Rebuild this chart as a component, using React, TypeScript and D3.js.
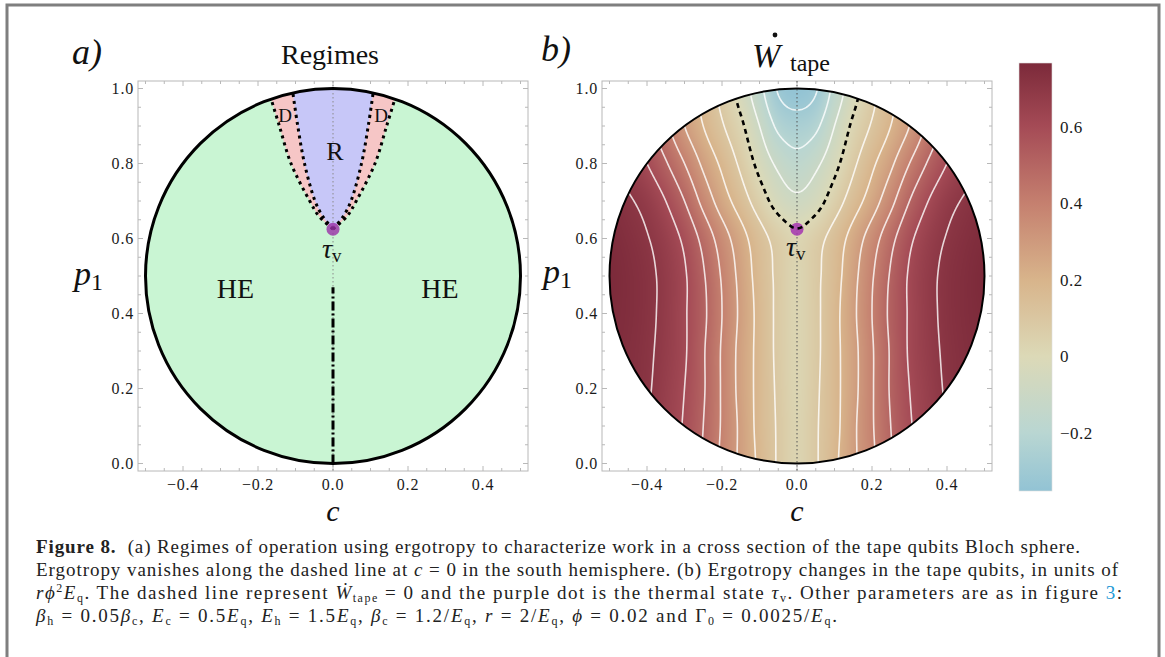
import React, { useMemo } from 'react';
import * as d3 from 'd3';

// ---------- values ----------
const xTicks = [-0.4, -0.2, 0, 0.2, 0.4];
const yTicks = [0, 0.2, 0.4, 0.6, 0.8, 1.0];

// thermal state tau_v
const tauC = 0;
const tauP1 = 0.625;

// panel a: boundary of the R region (right half, mirrored to the left)
const refP1 = [0.625, 0.66, 0.7, 0.8, 0.9, 0.988];
const refC = [0, 0.028, 0.048, 0.076, 0.094, 0.107];
// panel a: outer boundary of the D region
const dudP1 = [0.625, 0.66, 0.7, 0.8, 0.9, 0.972];
const dudC = [0, 0.038, 0.062, 0.112, 0.143, 0.165];
// ergotropy vanishes on c = 0 between these p1
const zeroErgoP1 = [0, 0.47];

// panel b: W_tape estimated on a grid, c >= 0 half (figure is symmetric in c)
const gridC = [0, 0.05, 0.1, 0.15, 0.2, 0.25, 0.3, 0.35, 0.4, 0.45, 0.5];
const gridP1 = [0, 0.1, 0.2, 0.3, 0.4, 0.5, 0.6, 0.7, 0.8, 0.9, 1.0];
const w00 = [0.03, 0.09, 0.18, 0.28, 0.38, 0.49, 0.58, 0.64, 0.69, 0.71, 0.72];
const w01 = [0.03, 0.09, 0.17, 0.28, 0.39, 0.5, 0.59, 0.65, 0.7, 0.72, 0.73];
const w02 = [0.025, 0.085, 0.17, 0.27, 0.39, 0.51, 0.6, 0.66, 0.71, 0.735, 0.745];
const w03 = [0.025, 0.08, 0.17, 0.27, 0.39, 0.51, 0.61, 0.67, 0.715, 0.74, 0.755];
const w04 = [0.025, 0.08, 0.17, 0.28, 0.4, 0.52, 0.61, 0.675, 0.72, 0.745, 0.76];
const w05 = [0.025, 0.08, 0.16, 0.27, 0.39, 0.51, 0.61, 0.675, 0.72, 0.745, 0.765];
const w06 = [0.02, 0.065, 0.14, 0.24, 0.35, 0.47, 0.58, 0.655, 0.705, 0.735, 0.755];
const w07 = [-0.08, -0.04, 0.05, 0.15, 0.25, 0.37, 0.5, 0.6, 0.67, 0.71, 0.735];
const w08 = [-0.165, -0.12, -0.03, 0.08, 0.18, 0.28, 0.4, 0.51, 0.6, 0.66, 0.69];
const w09 = [-0.255, -0.22, -0.1, 0.02, 0.11, 0.2, 0.3, 0.42, 0.53, 0.6, 0.64];
const w10 = [-0.35, -0.31, -0.17, -0.04, 0.07, 0.17, 0.27, 0.37, 0.48, 0.56, 0.61];
const wRows = [w00, w01, w02, w03, w04, w05, w06, w07, w08, w09, w10];

const contourLevels = [-0.3, -0.2, -0.1, 0.1, 0.2, 0.3, 0.4, 0.5, 0.6, 0.7];

// colour bar
const cbTicks = [-0.2, 0, 0.2, 0.4, 0.6];
const cbStops = [-0.352, -0.2, 0, 0.2, 0.4, 0.6, 0.767];
const cbColors = ['#92c3d4', '#b9d6d2', '#dcd9b7', '#d8b48b', '#c5806f', '#a54b56', '#7c2a3a'];

// caption
type Seg = { t: string; b?: boolean; i?: boolean; sub?: boolean; sup?: boolean; col?: string };
const cap1: Seg[] = [
  { t: 'Figure 8.', b: true },
  { t: '  (a) Regimes of operation using ergotropy to characterize work in a cross section of the tape qubits Bloch sphere.' },
];
const cap2: Seg[] = [
  { t: 'Ergotropy vanishes along the dashed line at ' },
  { t: 'c', i: true },
  { t: ' = 0 in the south hemisphere. (b) Ergotropy changes in the tape qubits, in units of' },
];
const cap3: Seg[] = [
  { t: 'rϕ', i: true }, { t: '2', sup: true }, { t: 'E', i: true }, { t: 'q', sub: true },
  { t: '. The dashed line represent ' }, { t: 'Ẇ', i: true }, { t: 'tape', sub: true },
  { t: ' = 0 and the purple dot is the thermal state ' }, { t: 'τ', i: true }, { t: 'v', sub: true },
  { t: '. Other parameters are as in figure ' }, { t: '3', col: '#1e9ad6' }, { t: ':' },
];
const cap4: Seg[] = [
  { t: 'β', i: true }, { t: 'h', sub: true }, { t: ' = 0.05' }, { t: 'β', i: true }, { t: 'c', sub: true },
  { t: ', ' }, { t: 'E', i: true }, { t: 'c', sub: true }, { t: ' = 0.5' }, { t: 'E', i: true }, { t: 'q', sub: true },
  { t: ', ' }, { t: 'E', i: true }, { t: 'h', sub: true }, { t: ' = 1.5' }, { t: 'E', i: true }, { t: 'q', sub: true },
  { t: ', ' }, { t: 'β', i: true }, { t: 'c', sub: true }, { t: ' = 1.2/' }, { t: 'E', i: true }, { t: 'q', sub: true },
  { t: ', ' }, { t: 'r', i: true }, { t: ' = 2/' }, { t: 'E', i: true }, { t: 'q', sub: true },
  { t: ', ' }, { t: 'ϕ', i: true }, { t: ' = 0.02 and Γ' }, { t: '0', sub: true }, { t: ' = 0.0025/' },
  { t: 'E', i: true }, { t: 'q', sub: true }, { t: '.' },
];

// ---------- layout ----------
const serif = "'Liberation Serif', 'DejaVu Serif', serif";
const ax = d3.scaleLinear().domain([-0.52, 0.52]).range([138, 528]);
const bx = d3.scaleLinear().domain([-0.52, 0.52]).range([602, 992]);
const py = d3.scaleLinear().domain([-0.02, 1.02]).range([471, 81]);
const R = ax(0.5) - ax(0);
const cyC = py(0.5);
const cb = d3.scaleLinear().domain([-0.352, 0.767]).range([491, 63]);
const color = d3.scaleLinear<string>().domain(cbStops).range(cbColors).interpolate(d3.interpolateRgb).clamp(true);

// full grid (mirror the half rows)
const fullC = [...gridC.slice(1).reverse().map((c) => -c), ...gridC];
const fullRows = wRows.map((r) => [...r.slice(1).reverse(), ...r]);

// smooth (Catmull-Rom) reading of the grid, only for drawing
function cr(a: number, b: number, c: number, d: number, t: number) {
  return 0.5 * (2 * b + (-a + c) * t + (2 * a - 5 * b + 4 * c - d) * t * t + (-a + 3 * b - 3 * c + d) * t * t * t);
}
function sampleW(c: number, p: number) {
  const nx = fullC.length, ny = gridP1.length;
  const gx = (c - fullC[0]) / 0.05, gy = (p - gridP1[0]) / 0.1;
  const i0 = Math.max(0, Math.min(nx - 2, Math.floor(gx)));
  const j0 = Math.max(0, Math.min(ny - 2, Math.floor(gy)));
  const tx = gx - i0, ty = gy - j0;
  const ci = (i: number) => Math.max(0, Math.min(nx - 1, i));
  const cj = (j: number) => Math.max(0, Math.min(ny - 1, j));
  const col = [-1, 0, 1, 2].map((dj) => {
    const row = fullRows[cj(j0 + dj)];
    return cr(row[ci(i0 - 1)], row[ci(i0)], row[ci(i0 + 1)], row[ci(i0 + 2)], tx);
  });
  return cr(col[0], col[1], col[2], col[3], ty);
}

function Frame({ x }: { x: d3.ScaleLinear<number, number> }) {
  const [x0, x1] = x.range();
  const [y1, y0] = py.range();
  const minorX = d3.range(-0.5, 0.5001, 0.05);
  const minorY = d3.range(0, 1.0001, 0.05);
  const isMajor = (v: number) => Math.abs(v / 0.2 - Math.round(v / 0.2)) < 1e-6;
  return (
    <g stroke="#b8b8b8" strokeWidth={1} fill="none">
      <rect x={x0} y={y0} width={x1 - x0} height={y1 - y0} />
      {minorX.map((v, k) => {
        const l = isMajor(v) ? 5 : 3;
        return (
          <g key={'x' + k}>
            <line x1={x(v)} x2={x(v)} y1={y1} y2={y1 - l} />
            <line x1={x(v)} x2={x(v)} y1={y0} y2={y0 + l} />
          </g>
        );
      })}
      {minorY.map((v, k) => {
        const l = isMajor(v) ? 5 : 3;
        return (
          <g key={'y' + k}>
            <line x1={x0} x2={x0 + l} y1={py(v)} y2={py(v)} />
            <line x1={x1} x2={x1 - l} y1={py(v)} y2={py(v)} />
          </g>
        );
      })}
    </g>
  );
}

function TickLabels({ x }: { x: d3.ScaleLinear<number, number> }) {
  const x0 = x.range()[0];
  const fmt = (d: number) => (d < 0 ? '\u2212' : '') + Math.abs(d).toFixed(1);
  return (
    <g fontFamily={serif} fontSize={16} fill="#1a1a1a" letterSpacing={0.8}>
      {yTicks.map((d) => (
        <text key={'y' + d} x={x0 - 4} y={py(d)} dy="0.35em" textAnchor="end">{d.toFixed(1)}</text>
      ))}
      {xTicks.map((d) => (
        <text key={'x' + d} x={x(d)} y={490} textAnchor="middle">{fmt(d)}</text>
      ))}
    </g>
  );
}

function CaptionLine({ y, segs, len }: { y: number; segs: Seg[]; len: number }) {
  let shift = 0;
  return (
    <text x={36} y={y} fontSize={19} fontFamily={serif} fill="#222" textLength={len} lengthAdjust="spacing" style={{ whiteSpace: 'pre' }}>
      {segs.map((s, k) => {
        const target = s.sub ? 3 : s.sup ? -7 : 0;
        const dy = target - shift;
        shift = target;
        return (
          <tspan key={k} dy={dy} fontWeight={s.b ? 'bold' : undefined} fontStyle={s.i ? 'italic' : undefined}
            fontSize={s.sub || s.sup ? 12 : undefined} fill={s.col}>{s.t}</tspan>
        );
      })}
    </text>
  );
}

function PLabel({ x, y }: { x: number; y: number }) {
  return (
    <text x={x} y={y} fontFamily={serif} fill="#111">
      <tspan fontStyle="italic" fontSize={34}>p</tspan>
      <tspan fontSize={24} dy={5}>1</tspan>
    </text>
  );
}

function TauLabel({ x, y }: { x: number; y: number }) {
  return (
    <text x={x} y={y} fontFamily={serif} fill="#111">
      <tspan fontStyle="italic" fontSize={28}>τ</tspan>
      <tspan fontSize={19} dy={4}>v</tspan>
    </text>
  );
}

export default function App() {
  const line = d3.line<[number, number]>().curve(d3.curveCatmullRom);

  // ---- panel a geometry ----
  const curvePts = (cs: number[], ps: number[], sign: number) =>
    cs.map((c, i) => [ax(sign * c), py(ps[i])] as [number, number]);
  const regionPath = (cs: number[], ps: number[]) => {
    const left = curvePts(cs, ps, -1);
    const right = curvePts(cs, ps, 1).reverse();
    const [ex, ey] = right[0];
    return `${line(left)}A${R},${R} 0 0 1 ${ex},${ey}${(line(right) as string).replace(/^M/, 'L')}Z`;
  };
  const dudPath = regionPath(dudC, dudP1);
  const refPath = regionPath(refC, refP1);

  // ---- panel b heat map and contours ----
  const { heatUrl, whitePaths, zeroPath } = useMemo(() => {
    const size = Math.round(2 * R);
    const cv = document.createElement('canvas');
    cv.width = size;
    cv.height = size;
    const ctx = cv.getContext('2d')!;
    const img = ctx.createImageData(size, size);
    const lut = d3.range(512).map((k) => d3.rgb(color(-0.352 + (k / 511) * (0.767 + 0.352))));
    for (let j = 0; j < size; j++) {
      for (let i = 0; i < size; i++) {
        const c = bx.invert(bx(0) - R + i + 0.5);
        const p = py.invert(cyC - R + j + 0.5);
        const v = sampleW(c, p);
        const k = Math.max(0, Math.min(511, Math.round(((v + 0.352) / (0.767 + 0.352)) * 511)));
        const o = (j * size + i) * 4;
        img.data[o] = lut[k].r;
        img.data[o + 1] = lut[k].g;
        img.data[o + 2] = lut[k].b;
        img.data[o + 3] = 255;
      }
    }
    ctx.putImageData(img, 0, 0);

    const n = 201, st = 0.005;
    const vals = new Array(n * n);
    for (let j = 0; j < n; j++) for (let i = 0; i < n; i++) vals[j * n + i] = sampleW(-0.5 + i * st, j * st);
    const gen = d3.contours().size([n, n]);
    const proj = d3.geoTransform({
      point(x: number, y: number) {
        (this as any).stream.point(bx(-0.5 + (x - 0.5) * st), py((y - 0.5) * st));
      },
    });
    const path = d3.geoPath(proj);
    return {
      heatUrl: cv.toDataURL(),
      whitePaths: contourLevels.map((l) => path(gen.contour(vals, l) as any) || ''),
      zeroPath: path(gen.contour(vals, 0) as any) || '',
    };
  }, []);

  const cbMin = cbStops[0], cbMax = cbStops[cbStops.length - 1];

  return (
    <svg width={1165} height={657} style={{ position: 'absolute', left: 0, top: 0, background: '#fff' }}>
      <defs>
        <clipPath id="clipA"><circle cx={ax(0)} cy={cyC} r={R} /></clipPath>
        <clipPath id="clipB"><circle cx={bx(0)} cy={cyC} r={R} /></clipPath>
        <linearGradient id="cbGrad" x1="0" y1="1" x2="0" y2="0">
          {cbStops.map((v, k) => (
            <stop key={k} offset={(v - cbMin) / (cbMax - cbMin)} stopColor={cbColors[k]} />
          ))}
        </linearGradient>
      </defs>

      {/* page border */}
      <path d="M7,657 V5 H1159 V657" fill="none" stroke="#7f7f7f" strokeWidth={3} />

      {/* ---------- panel a ---------- */}
      <Frame x={ax} />
      <circle cx={ax(0)} cy={cyC} r={R} fill="#c9f5d3" />
      <g clipPath="url(#clipA)">
        <path d={dudPath} fill="#f6c6c6" />
        <path d={refPath} fill="#c7c7f8" />
      </g>
      <line x1={ax(0)} x2={ax(0)} y1={py.range()[1]} y2={py.range()[0]} stroke="#8a8a8a" strokeWidth={1} strokeDasharray="1.5,2.5" />
      {[-1, 1].map((s) => (
        <g key={s} fill="none" stroke="#000" strokeWidth={3} strokeDasharray="3,4">
          <path d={line(curvePts(dudC, dudP1, s)) || ''} />
          <path d={line(curvePts(refC, refP1, s)) || ''} />
        </g>
      ))}
      <line x1={ax(0)} x2={ax(0)} y1={py(zeroErgoP1[0])} y2={py(zeroErgoP1[1])} stroke="#000" strokeWidth={3} strokeDasharray="9,3,2,3" />
      <circle cx={ax(0)} cy={cyC} r={R} fill="none" stroke="#000" strokeWidth={3} />
      <circle cx={ax(tauC)} cy={py(tauP1)} r={6.5} fill="#9a2fa8" fillOpacity={0.8} />
      <g fontFamily={serif} fill="#111">
        <text x={ax(0) + 2} y={160} fontSize={26} textAnchor="middle">R</text>
        <text x={ax(-0.128)} y={122} fontSize={19} textAnchor="middle">D</text>
        <text x={ax(0.128)} y={122} fontSize={19} textAnchor="middle">D</text>
        <text x={ax(-0.26)} y={298} fontSize={28} textAnchor="middle">HE</text>
        <text x={ax(0.285)} y={298} fontSize={28} textAnchor="middle">HE</text>
      </g>
      <TauLabel x={ax(0) - 11} y={258} />
      <TickLabels x={ax} />
      <text x={330} y={64} fontFamily={serif} fontSize={28} textAnchor="middle" fill="#111">Regimes</text>
      <text x={72} y={64} fontFamily={serif} fontSize={36} fontStyle="italic" fill="#111">a)</text>
      <PLabel x={74} y={285} />
      <text x={ax(0)} y={521} fontFamily={serif} fontSize={30} fontStyle="italic" textAnchor="middle" fill="#111">c</text>

      {/* ---------- panel b ---------- */}
      <Frame x={bx} />
      <image href={heatUrl} x={bx(0) - R} y={cyC - R} width={2 * R} height={2 * R} preserveAspectRatio="none" clipPath="url(#clipB)" />
      <g clipPath="url(#clipB)">
        {whitePaths.map((d, k) => (
          <path key={k} d={d} fill="none" stroke="#fff" strokeOpacity={0.8} strokeWidth={1.6} />
        ))}
      </g>
      <line x1={bx(0)} x2={bx(0)} y1={py.range()[1]} y2={py.range()[0]} stroke="#555" strokeWidth={1} strokeDasharray="1.5,2.5" />
      <circle cx={bx(tauC)} cy={py(tauP1)} r={6.5} fill="#a535b0" fillOpacity={0.85} />
      <g clipPath="url(#clipB)">
        <path d={zeroPath} fill="none" stroke="#000" strokeWidth={2.6} strokeDasharray="5,4" />
      </g>
      <circle cx={bx(0)} cy={cyC} r={R} fill="none" stroke="#000" strokeWidth={2} />
      <TauLabel x={bx(0) - 11} y={256} />
      <TickLabels x={bx} />
      <g fontFamily={serif} fill="#111">
        <text x={752} y={67} fontSize={34} fontStyle="italic">W</text>
        <circle cx={775} cy={35} r={2.4} fill="#111" />
        <text x={790} y={71} fontSize={24}>tape</text>
      </g>
      <text x={541} y={61} fontFamily={serif} fontSize={36} fontStyle="italic" fill="#111">b)</text>
      <PLabel x={543} y={283} />
      <text x={bx(0)} y={521} fontFamily={serif} fontSize={30} fontStyle="italic" textAnchor="middle" fill="#111">c</text>

      {/* ---------- colour bar ---------- */}
      <rect x={1019} y={cb(cbMax)} width={33} height={cb(cbMin) - cb(cbMax)} fill="url(#cbGrad)" stroke="#ddd" strokeWidth={0.6} />
      <g fontFamily={serif} fontSize={17} fill="#1a1a1a" letterSpacing={0.5}>
        {cbTicks.map((t) => (
          <text key={t} x={1060} y={cb(t)} dy="0.35em">{t < 0 ? '\u2212' + Math.abs(t).toFixed(1) : t === 0 ? '0' : t.toFixed(1)}</text>
        ))}
      </g>

      {/* ---------- caption ---------- */}
      <CaptionLine y={553} segs={cap1} len={1044} />
      <CaptionLine y={576} segs={cap2} len={1082} />
      <CaptionLine y={599} segs={cap3} len={1086} />
      <CaptionLine y={622} segs={cap4} len={801} />
    </svg>
  );
}
